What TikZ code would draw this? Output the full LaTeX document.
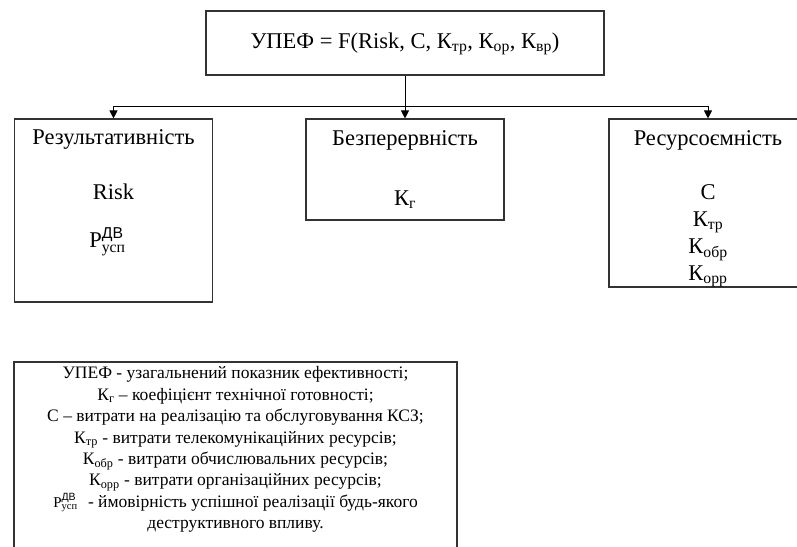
\documentclass[tikz,border=0pt]{standalone}
\usepackage{amsmath}
\usepackage{fontspec}
\setmainfont{Liberation Serif}
\setsansfont{Liberation Sans}
\usetikzlibrary{positioning,arrows.meta}
\tikzset{
  box/.style={draw=black!80,line width=1.1pt,minimum width=198pt,inner sep=0pt},
  lbl/.style={inner sep=0pt,text height=16pt,text depth=5.5pt,font=\fontsize{22.5}{26}\selectfont},
  note/.style={inner sep=0pt,align=center,font=\fontsize{17.5}{21.4}\selectfont},
  wire/.style={line width=1pt},
  arr/.style={wire,-{Triangle[width=8pt,length=8pt]}}
}
\newcommand{\Pdv}{$\text{Р}^{\textsf{ДВ}}_{\text{усп}}$}

\begin{document}
\begin{tikzpicture}[x=1pt,y=-1pt]
\useasboundingbox (0,0) rectangle (797,546);
\clip (0,0) rectangle (797,546);
\node[box,lbl,minimum width=398pt,minimum height=64pt] (eq) at (405,43)
  {УПЕФ = F(Risk, C, К\textsubscript{тр}, К\textsubscript{ор}, К\textsubscript{вр})};
\node[box,minimum height=183pt] (res) at (113.5,210.5) {};
\node[box,minimum height=101pt] (cont) at (405,169.5) {};
\node[box,minimum height=168pt] (cost) at (708,203) {};
\node[box,minimum width=443pt,minimum height=200pt] (legend) at (235.5,462) {};

\node[lbl,below=10pt of res.north] (resT) {Результативність};
\node[lbl,below=32.5pt of resT] (risk) {Risk};
\node[lbl,below=26.5pt of risk,xshift=-6pt] (pdv) {\Pdv};

\node[lbl,below=11pt of cont.north] (contT) {Безперервність};
\node[lbl,below=37.5pt of contT] (kg) {К\textsubscript{г}};

\node[lbl,below=11pt of cost.north] (costT) {Ресурсоємність};
\node[lbl,below=32pt of costT] (c) {С};
\node[lbl,below=5pt of c] (ktr) {К\textsubscript{тр}};
\node[lbl,below=5pt of ktr] (kobr) {К\textsubscript{обр}};
\node[lbl,below=5pt of kobr] (korr) {К\textsubscript{орр}};

\node[note,below=5pt of legend.north] (legendT) {УПЕФ - узагальнений показник ефективності;\\
  К\textsubscript{г} -- коефіцієнт технічної готовності;\\
  С -- витрати на реалізацію та обслуговування КСЗ;\\
  К\textsubscript{тр} - витрати телекомунікаційних ресурсів;\\
  К\textsubscript{обр} - витрати обчислювальних ресурсів;\\
  К\textsubscript{орр} - витрати організаційних ресурсів;\\
  {\fontsize{15}{15}\selectfont\smash{\Pdv}}\hspace{6pt} - ймовірність успішної реалізації будь-якого\hspace{22pt}\\
  деструктивного впливу.};

\coordinate[below=31pt of eq.south] (bus);
\draw[arr] (eq.south) -- (cont.north);
\draw[arr] (bus) -| (res.north);
\draw[arr] (bus) -| (cost.north);
\end{tikzpicture}
\end{document}
